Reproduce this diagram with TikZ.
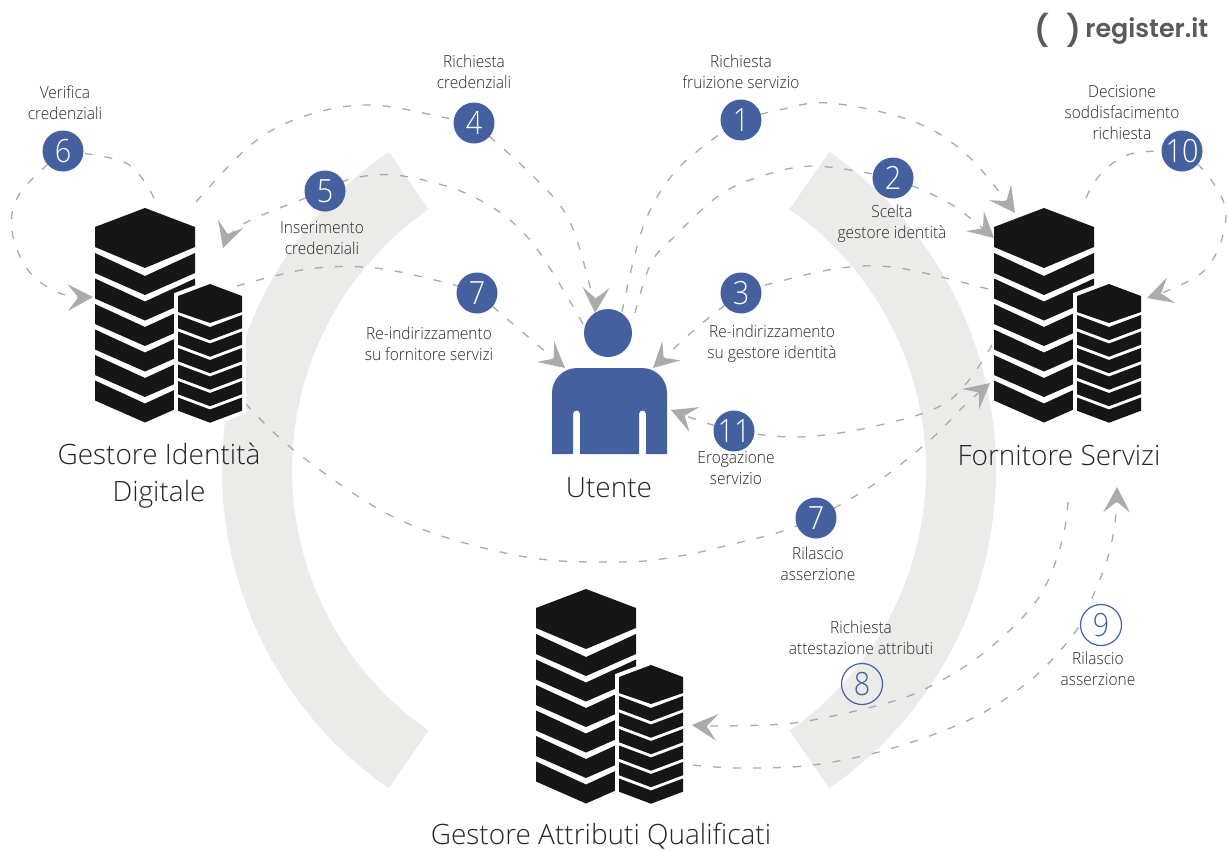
\documentclass[tikz,border=0pt]{standalone}
\usepackage{fontspec}
\setmainfont{Open Sans Light}
\newfontfamily\narrowfont[FakeStretch=0.93]{Open Sans Light}
\newfontfamily\digitfont[FakeStretch=0.9]{Open Sans Light}
\newfontfamily\logofont{Poppins SemiBold}
\usetikzlibrary{arrows.meta}
\definecolor{uBlue}{HTML}{44609F}
\definecolor{bandc}{HTML}{EBEBE9}
\definecolor{dashc}{HTML}{ABABAB}
\definecolor{ink}{HTML}{161616}
\definecolor{txt}{HTML}{262626}
\definecolor{logoc}{HTML}{5A5A5A}
\pgfdeclarelayer{bandlayer}
\pgfdeclarelayer{connlayer}
\pgfsetlayers{bandlayer,connlayer,main}
\newcommand\srv[2]{%
\begin{scope}[shift={(#1,#2)}]
 \fill[ink] (0,19)--(50,0)--(100,19)--(100,39)--(50,60)--(0,39)--cycle;
 \foreach \k in {0,...,5}{%
  \pgfmathsetmacro\t{45+25.5*\k}%
  \fill[ink] (0,\t)--(50,\t+23)--(100,\t)--(100,\t+20)--(50,\t+42)--(0,\t+20)--cycle;}
 \filldraw[white,line width=6pt,line join=miter] (83,88)--(115,76)--(147,88)--(147,202)--(115,216)--(83,202)--cycle;
 \fill[ink] (83,88)--(115,76)--(147,88)--(147,104)--(115,115)--(83,104)--cycle;
 \foreach \k in {0,...,5}{%
  \pgfmathsetmacro\t{107+16.5*\k}%
  \fill[ink] (83,\t)--(115,\t+12)--(147,\t)--(147,\t+13.2)--(115,\t+25.2)--(83,\t+13.2)--cycle;}
\end{scope}}
\tikzset{
 num/.style={circle,fill=uBlue,text=white,minimum size=30.75pt,inner sep=0pt,font=\digitfont\fontsize{24}{24}\selectfont},
 numo/.style={circle,draw=uBlue,line width=0.9pt,text=uBlue,minimum size=30.75pt,inner sep=0pt,font=\digitfont\fontsize{24}{24}\selectfont},
 lab/.style={align=center,text=txt,inner sep=0pt,font=\narrowfont\fontsize{12.5}{15.75}\selectfont},
 big/.style={align=center,text=txt,inner sep=0pt,font=\fontsize{21}{27.75}\selectfont},
 conn/.style={draw=dashc,line width=1pt,dash pattern=on 6pt off 9pt},
 arr/.style={conn,-{Stealth[length=19pt,width=20pt,inset=8pt,fill=dashc,sep=0pt]}}
}
\begin{document}
\begin{tikzpicture}[x=0.75pt,y=-0.75pt]
\useasboundingbox (0,0) rectangle (1228,850);
% bands
\begin{pgfonlayer}{bandlayer}
\fill[white] (0,0) rectangle (1228,850);
\fill[bandc] ([shift={(609,470)}]-55.3:387) arc[start angle=-55.3,end angle=55.3,radius=387]
  -- ([shift={(609,470)}]55.3:317) arc[start angle=55.3,end angle=-55.3,radius=317] -- cycle;
\fill[bandc] ([shift={(609,470)}]124.7:387) arc[start angle=124.7,end angle=235.3,radius=387]
  -- ([shift={(609,470)}]235.3:317) arc[start angle=235.3,end angle=124.7,radius=317] -- cycle;
\end{pgfonlayer}
% servers
\srv{95}{208}
\srv{994}{208}
\srv{536}{589}
% user
\node[circle,fill=uBlue,minimum size=36pt,inner sep=0pt] (head) at (608,333) {};
\fill[uBlue] (552,454)--(552,393) arc[start angle=180,end angle=270,radius=25] --(642,368)
  arc[start angle=270,end angle=360,radius=25] --(667,454)--(646,454)--(646,414)
  arc[start angle=0,end angle=-180,radius=3.5]--(639,454)--(580,454)--(580,414)
  arc[start angle=0,end angle=-180,radius=3.5]--(573,454)--cycle;
% circles
\node[num] (n1) at (741,120) {1};
\node[num] (n2) at (893,178) {2};
\node[num] (n3) at (741,293) {3};
\node[num] (n4) at (474,123) {4};
\node[num] (n5) at (325,191) {5};
\node[num] (n6) at (63,151) {6};
\node[num] (n7a) at (477,293) {7};
\node[num] (n7b) at (816,518) {7};
\node[numo] (n8) at (862,684) {8};
\node[numo,fill=white] (n9) at (1101,625) {9};
\node[num] (n10) at (1182,151) {10};
\node[num] (n11) at (734,431) {11};
% labels
\node[lab] (l6) at (65,103) {Verifica\\credenziali};
\node[lab] (l4) at (474,72) {Richiesta\\credenziali};
\node[lab] (l1) at (741,72) {Richiesta\\fruizione servizio};
\node[lab] (l10) at (1122,113) {Decisione\\soddisfacimento\\richiesta};
\node[lab] (l5) at (322,238) {Inserimento\\credenziali};
\node[lab] (l2) at (892,224) {Scelta\\gestore identità};
\node[lab] (l7a) at (429,344) {Re-indirizzamento\\su fornitore servizi};
\node[lab] (l3) at (772,344) {Re-indirizzamento\\su gestore identità};
\node[lab] (l11) at (736,468) {Erogazione\\servizio};
\node[lab] (l7b) at (818,564) {Rilascio\\asserzione};
\node[lab] (l8) at (861,638) {Richiesta\\attestazione attributi};
\node[lab] (l9) at (1098,669) {Rilascio\\asserzione};
\node[big] (idp) at (159,476) {Gestore Identità\\Digitale};
\node[big] (ute) at (609,488) {Utente};
\node[big] (fs) at (1059,455) {Fornitore Servizi};
\node[big] (gaq) at (601,836) {Gestore Attributi Qualificati};
% logo
\node[text=logoc,inner sep=0pt,font=\logofont\fontsize{23}{23}\selectfont] (lpa) at (1042,30) {(};
\node[text=logoc,inner sep=0pt,font=\logofont\fontsize{23}{23}\selectfont] (lpb) at (1074,30) {)};
\node[text=logoc,inner sep=0pt,anchor=west,font=\logofont\fontsize{19}{19}\selectfont] (logo) at (1085,31) {register.it};
% free ends
\coordinate (a1s) at (622,312);
\coordinate (a1e) at (1015,213);
\coordinate (a2s) at (635,313);
\coordinate (a2e) at (994,238);
\coordinate (a3s) at (988,289);
\coordinate (a3e) at (653,368);
\coordinate (a4s) at (196,202);
\coordinate (a4e) at (595,313);
\coordinate (a5s) at (583,324);
\coordinate (a5e) at (223,248);
\coordinate (a6s) at (154,198);
\coordinate (a6e) at (93,297);
\coordinate (a7s) at (237,286);
\coordinate (a7e) at (565,368);
\coordinate (b7s) at (245,403);
\coordinate (b7e) at (990,383);
\coordinate (a8s) at (1068,502);
\coordinate (a8e) at (692,725);
\coordinate (a9s) at (693,765);
\coordinate (a9e) at (1117,487);
\coordinate (a10s) at (1086,198);
\coordinate (a10e) at (1147,298);
\coordinate (a11s) at (992,345);
\coordinate (a11e) at (671,410);
\begin{pgfonlayer}{connlayer}
\draw[conn] plot[smooth,tension=0.6] coordinates {(a1s) (643,227) (674,173) (721,133) (n1.center)};
\draw[arr] plot[smooth,tension=0.6] coordinates {(n1.center) (775,111) (829,103) (915,122) (969,157) (a1e)};
\draw[conn] plot[smooth,tension=0.6] coordinates {(a2s) (651,263) (674,237) (717,197) (756,178) (814,166) (n2.center)};
\draw[arr] plot[smooth,tension=0.6] coordinates {(n2.center) (949,203) (a2e)};
\draw[conn] plot[smooth,tension=0.6] coordinates {(a3s) (899,268) (841,268) (773,283) (n3.center)};
\draw[arr] plot[smooth,tension=0.6] coordinates {(n3.center) (700,325) (a3e)};
\draw[conn] plot[smooth,tension=0.6] coordinates {(a4s) (253,143) (308,115) (372,105) (447,118) (n4.center)};
\draw[arr] plot[smooth,tension=0.6] coordinates {(n4.center) (534,177) (569,220) (591,290) (a4e)};
\draw[conn] plot[smooth,tension=0.6] coordinates {(a5s) (530,240) (474,197) (403,176) (354,178) (n5.center)};
\draw[arr] plot[smooth,tension=0.6] coordinates {(n5.center) (245,223) (a5e)};
\draw[conn] plot[smooth,tension=0.6] coordinates {(a6s) (126,163) (n6.center)};
\draw[arr] plot[smooth,tension=0.6] coordinates {(n6.center) (20,193) (12,230) (28,270) (59,293) (a6e)};
\draw[conn] plot[smooth,tension=0.6] coordinates {(a7s) (308,269) (375,268) (447,283) (n7a.center)};
\draw[arr] plot[smooth,tension=0.6] coordinates {(n7a.center) (520,330) (a7e)};
\draw[conn] plot[smooth,tension=0.6] coordinates {(b7s) (300,455) (400,520) (520,556) (620,562) (680,556) (737,543) (780,532) (n7b.center)};
\draw[arr] plot[smooth,tension=0.6] coordinates {(n7b.center) (873,485) (930,440) (965,405) (b7e)};
\draw[arr] plot[smooth,tension=0.6] coordinates {(a8s) (1063,537) (1047,583) (1023,617) (977,658) (927,688) (887,703) (823,718) (783,724) (720,726) (a8e)};
\draw[arr] plot[smooth,tension=0.6] coordinates {(a9s) (740,768) (813,765) (893,748) (973,718) (1027,683) (1058,653) (1080,625) (1090,603) (1107,560) (1115,523) (a9e)};
\draw[conn] plot[smooth,tension=0.6] coordinates {(a10s) (1100,175) (1130,154) (n10.center)};
\draw[arr] plot[smooth,tension=0.6] coordinates {(n10.center) (1210,178) (1226,217) (1205,270) (a10e)};
\draw[conn] plot[smooth,tension=0.6] coordinates {(a11s) (950,400) (880,425) (800,437) (n11.center)};
\draw[arr] plot[smooth,tension=0.6] coordinates {(n11.center) (700,421) (a11e)};
\end{pgfonlayer}
\end{tikzpicture}
\end{document}
